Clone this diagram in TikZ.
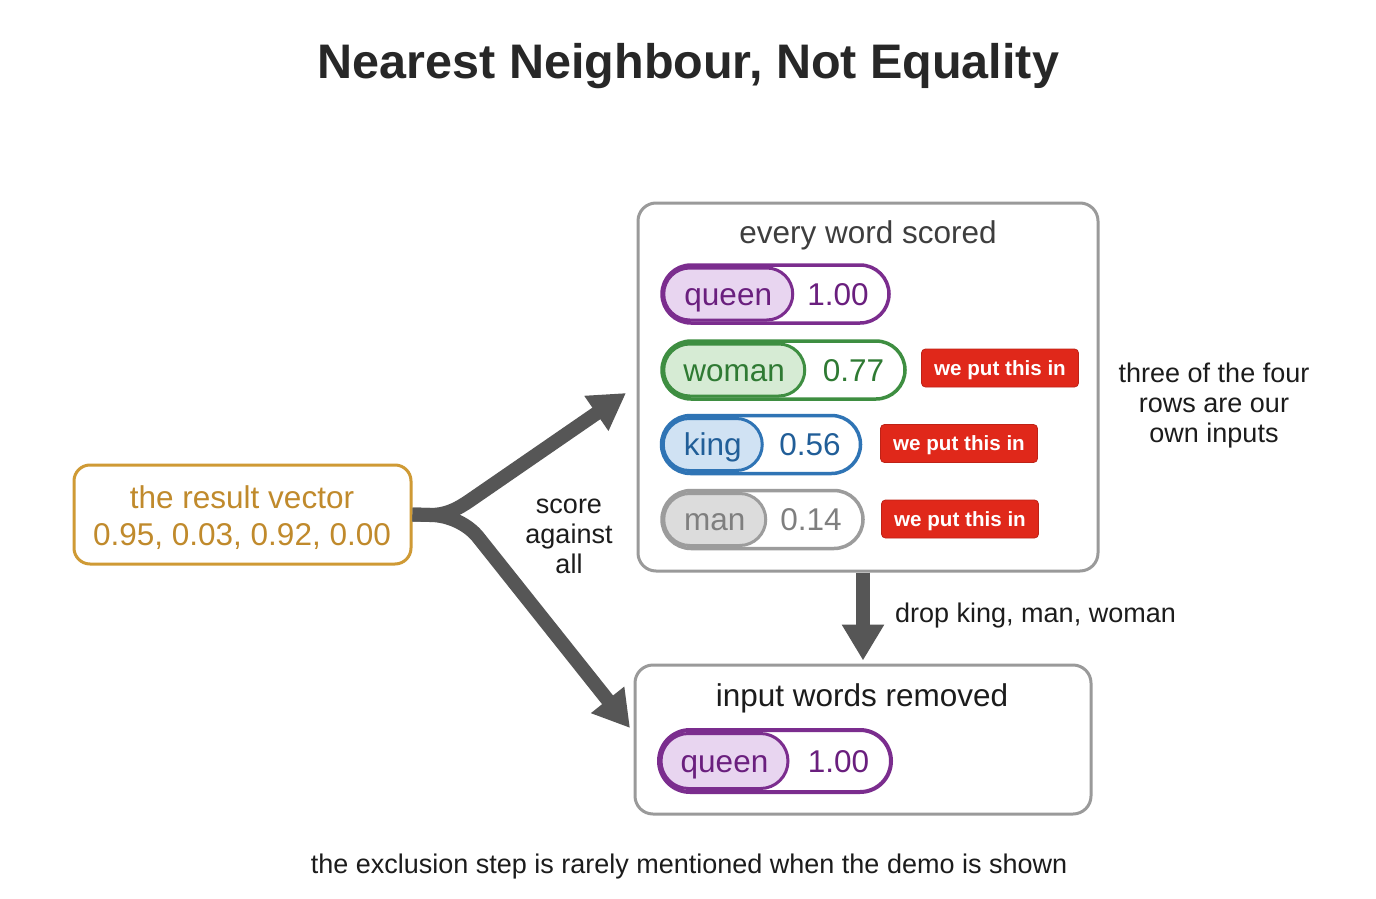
\documentclass[tikz,border=0pt]{standalone}
\usepackage{fontspec}
\setmainfont{Liberation Sans}
\usepackage{xcolor}
\definecolor{plum}{HTML}{7B2D8E}
\definecolor{plumfill}{HTML}{E8D5F0}
\definecolor{plumtext}{HTML}{6A1F7E}
\definecolor{fern}{HTML}{3E8E41}
\definecolor{fernfill}{HTML}{D6EBD4}
\definecolor{ferntext}{HTML}{2F7A33}
\definecolor{cobalt}{HTML}{2F74B5}
\definecolor{cobaltfill}{HTML}{D0E2F3}
\definecolor{cobalttext}{HTML}{215E98}
\definecolor{ash}{HTML}{9C9C9C}
\definecolor{ashfill}{HTML}{DCDCDC}
\definecolor{ashtext}{HTML}{7F7F7F}
\definecolor{signal}{HTML}{E0281A}
\definecolor{ochre}{HTML}{CF9A35}
\definecolor{ochretext}{HTML}{C08A2C}
\definecolor{frame}{HTML}{9A9A9A}
\definecolor{shaft}{HTML}{565656}
\definecolor{ink}{HTML}{1C1C1C}
\usepackage{tikz}
\usetikzlibrary{arrows.meta,shapes.misc,positioning}
\tikzset{
    x=1pt,y=-1pt,
    txt/.style ={font=\fontsize{31.5}{35}\selectfont, text=ink, text height=22.7pt, text depth=0pt, inner sep=0pt},
    note/.style ={font=\fontsize{27}{30}\selectfont, text=ink, align=center, inner sep=0pt},
    panel/.style ={draw=frame, line width=3pt, rounded corners=18pt, fill=white},
    pill/.style ={rounded rectangle, draw=#1, line width=3.5pt, fill=white, minimum height=58pt, inner sep=0pt},
    wordpart/.style ={txt, rounded rectangle, draw=#1, fill=#1fill, text=#1text, line width=3pt, minimum height=52pt, anchor=west},
    score/.style ={txt, text=#1text},
    tag/.style ={fill=signal, draw=signal!85!black, line width=0.8pt, rounded corners=4pt, text=white, font=\fontsize{20.6}{24}\selectfont\bfseries, text height=14.8pt, text depth=0pt, minimum width=157pt, minimum height=38pt, inner sep=0pt},
    fat/.style ={draw=shaft, line width=14pt, -{Triangle[length=36pt,width=40pt]}}
}

\begin{document}
\begin{tikzpicture}
    \useasboundingbox[fill=white] (0,0) rectangle (1376,899);
    \node[font=\fontsize{48.5}{56}\selectfont\bfseries, text=ink!95, text height=34.9pt, text depth=0pt, inner sep=0pt] (title) at (688.5,61) {Nearest Neighbour, Not Equality};

    % input vector
    \node[draw=ochre, line width=3pt, rounded corners=16pt, minimum width=337pt, minimum height=99pt, fill=white] (res) at (242.5,514.5) {};
    \node[txt, text=ochretext] (resA) at (242,497) {the result vector};
    \node[txt, text=ochretext] (resB) at (242,534) {0.95, 0.03, 0.92, 0.00};

    % every word scored
    \node[panel, minimum width=460pt, minimum height=368pt] (scored) at (868,387) {};
    \node[txt, text=ink!85] (scoredT) at (868,232) {every word scored};

    \node[pill=plum, minimum width=227pt] (queenRow) at (775.5,294) {};
    \node[wordpart=plum, minimum width=129pt] (queenWord) at ([xshift=2pt]queenRow.west) {queen};
    \node[score=plum] (queenScore) at (838,294) {1.00};

    \node[pill=fern, minimum width=243pt] (womanRow) at (783.5,370) {};
    \node[wordpart=fern, minimum width=141pt] (womanWord) at ([xshift=2pt]womanRow.west) {woman};
    \node[score=fern] (womanScore) at (853.5,370) {0.77};
    \node[tag] (womanTag) at (1000,368) {we put this in};

    \node[pill=cobalt, minimum width=199pt] (kingRow) at (761,444.5) {};
    \node[wordpart=cobalt, minimum width=99pt] (kingWord) at ([xshift=2pt]kingRow.west) {king};
    \node[score=cobalt] (kingScore) at (810,444.5) {0.56};
    \node[tag] (kingTag) at (959,443.5) {we put this in};

    \node[pill=ash, minimum width=201pt] (manRow) at (762.5,519.5) {};
    \node[wordpart=ash, minimum width=102pt] (manWord) at ([xshift=2pt]manRow.west) {man};
    \node[score=ash] (manScore) at (811,519.5) {0.14};
    \node[tag] (manTag) at (960,519) {we put this in};

    \node[note, anchor=base] (ownNote) at (1214,442) {three of the four\\rows are our\\own inputs};

    % input words removed
    \node[panel, minimum width=456pt, minimum height=149pt] (kept) at (863,739.5) {};
    \node[txt, text=ink] (keptT) at (862,695.5) {input words removed};

    \node[pill=plum, minimum width=232pt, line width=4pt, minimum height=62pt] (keptRow) at (775,761) {};
    \node[wordpart=plum, minimum width=127pt, minimum height=55pt] (keptWord) at ([xshift=2.5pt]keptRow.west) {queen};
    \node[score=plum] (keptScore) at (838.5,761) {1.00};

    % connectors
    \coordinate (uptip) at (626,393);
    \coordinate (lowtip) at (630,728);
    \draw[fat] (res.east) -- (430,515) .. controls (450,515) and (462.6,505.5) .. (475,497) -- (uptip);
    \draw[fat] (res.east) -- (430,515) .. controls (450,515) and (468.7,525.3) .. (478,537) -- (lowtip);
    \node[note, anchor=base] (scoreNote) at (569,573) {score\\against\\all};

    \draw[fat, shorten >=3pt] (kept.north |- scored.south) -- (kept.north);
    \node[note, anchor=base west] (dropNote) at (895,622.5) {drop king, man, woman};

    \node[note, anchor=base] (footer) at (689,873) {the exclusion step is rarely mentioned when the demo is shown};
\end{tikzpicture}
\end{document}
